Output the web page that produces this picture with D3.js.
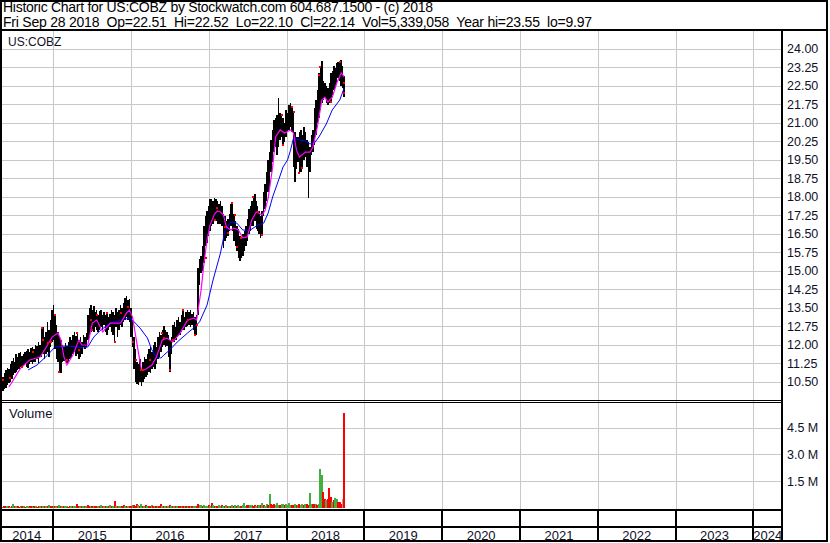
<!DOCTYPE html>
<html><head><meta charset="utf-8">
<script src="https://cdn.jsdelivr.net/npm/d3@7"></script>
<style>
html,body{margin:0;padding:0;background:#fff;}
svg{display:block;font-family:"Liberation Sans",Arial,sans-serif;}
</style>
</head><body>
<svg id="chart" width="830" height="543"></svg>
<script>
// ---------------- DATA ----------------
const headerLine1 = "Historic Chart for US:COBZ by Stockwatch.com 604.687.1500 - (c) 2018";
const headerLine2 = "Fri Sep 28 2018  Op=22.51  Hi=22.52  Lo=22.10  Cl=22.14  Vol=5,339,058  Year hi=23.55  lo=9.97";
const symbolLabel = "US:COBZ";
const volumeLabel = "Volume";
const firstWeek = "2014-05-02";   // weekly bars, one per week from this date

const highs = [
10.65,10.70,10.85,10.95,11.05,11.00,11.20,11.35,11.45,11.30,
11.60,11.50,11.65,11.70,11.55,11.60,11.70,11.75,11.80,11.70,
11.85,11.90,11.80,12.00,11.95,12.10,12.00,12.70,12.70,12.30,
12.50,12.90,12.60,13.00,13.40,13.60,13.20,12.80,12.50,12.30,
12.20,12.00,11.90,12.05,11.95,12.10,12.30,12.20,12.40,12.50,
12.35,12.50,12.20,12.30,12.10,12.40,12.30,12.45,13.20,13.50,
13.60,13.40,13.55,13.30,13.40,13.20,13.35,13.40,13.20,13.30,
13.20,13.30,13.10,13.25,13.40,13.30,13.20,13.50,13.30,13.40,
13.60,13.50,13.70,13.90,13.95,13.80,13.85,13.50,13.00,12.30,
11.80,11.30,11.20,11.40,11.00,11.30,11.50,11.40,11.60,11.80,
11.90,11.70,12.00,12.10,11.90,12.30,12.50,12.40,12.60,12.75,
12.60,12.50,12.40,12.20,12.30,12.80,12.90,12.70,13.00,13.10,
12.90,13.20,13.40,13.10,13.30,13.40,13.30,13.40,13.25,13.30,
13.10,13.20,15.10,15.45,15.60,16.00,16.80,17.20,17.40,17.60,
17.90,17.90,17.80,17.95,17.90,17.80,17.70,17.80,17.60,17.30,
17.20,17.00,17.10,17.30,17.70,17.75,17.30,17.00,16.80,16.70,
16.40,16.35,16.50,16.60,16.80,17.10,17.50,17.60,17.80,18.00,
18.10,17.80,17.60,17.40,17.20,17.40,18.20,18.50,19.00,19.50,
19.80,20.30,20.70,21.10,21.20,21.30,22.00,21.40,21.30,21.20,
21.00,21.50,21.40,21.70,21.80,21.65,21.45,20.60,20.40,20.40,
20.60,20.70,20.50,20.80,20.60,20.30,20.20,20.00,20.50,20.70,
21.60,21.90,22.30,23.00,23.30,23.50,22.70,22.60,22.50,22.40,
22.60,23.00,23.10,23.30,23.20,23.40,23.45,23.45,23.55,23.30,22.90
];
const lows = [
9.97,10.10,10.20,10.25,10.35,10.45,10.50,10.60,10.75,10.85,
10.90,10.95,11.00,11.10,11.05,11.15,11.20,11.10,11.05,11.20,
11.30,11.20,11.30,11.30,11.40,11.25,11.50,11.50,11.60,11.40,
11.60,11.70,11.50,11.90,12.10,12.20,11.80,11.40,11.30,10.85,
10.85,11.30,11.35,11.30,11.25,11.30,11.40,11.50,11.60,11.70,
11.55,11.60,11.40,11.50,11.60,11.90,11.80,11.90,12.20,12.40,
12.50,12.60,12.50,12.70,12.60,12.50,12.60,12.70,12.60,12.80,
12.50,12.40,12.60,12.70,12.50,12.40,12.10,12.70,12.30,12.60,
12.80,12.70,12.90,13.00,13.10,13.00,12.90,12.30,11.90,11.00,
10.50,10.40,10.35,10.50,10.32,10.50,10.60,10.70,10.75,10.90,
10.85,11.00,11.10,11.00,11.20,11.40,11.50,11.70,11.90,12.00,
11.90,11.95,11.50,10.90,11.60,12.10,12.10,12.20,12.30,12.35,
12.40,12.50,12.60,12.60,12.70,12.75,12.80,12.70,12.80,12.60,
12.35,12.40,13.20,14.40,14.90,15.00,15.30,16.00,16.10,16.40,
16.60,16.80,16.90,17.00,17.00,16.90,16.90,16.90,16.80,15.90,
16.20,16.30,16.40,16.60,16.80,16.60,16.20,16.00,15.80,15.50,
15.40,15.50,15.60,15.80,16.00,16.20,16.50,16.60,16.80,16.80,
17.00,16.70,16.60,16.50,16.30,16.40,17.20,17.50,17.80,18.20,
18.40,19.00,19.40,19.80,20.00,19.70,20.00,20.30,20.40,20.05,
20.20,20.40,20.60,20.70,20.80,20.60,19.20,18.60,19.10,19.40,
18.90,19.00,19.10,19.50,19.60,19.20,17.95,19.00,19.70,19.80,
20.10,20.50,21.00,21.20,21.50,21.80,21.90,22.00,21.80,21.70,
21.80,21.80,22.10,22.30,22.40,22.60,22.80,22.70,22.50,22.40,22.05
];

// red marks: week index and price
const redWeek  = [1,6,14,21,27,28,31,33,36,39,44,51,52,60,61,64,71,76,80,85,88,90,94,95,100,108,109,113,115,122,125,130,131,137,143,145,150,152,155,157,158,161,169,172,175,188,189,195,196,200,202,213,214,221,227,230,230];
const redPrice = [10.56,10.64,11.09,11.70,12.67,12.18,12.06,12.10,13.20,10.90,11.37,12.47,11.78,12.99,12.59,13.20,13.28,12.10,13.28,13.52,12.10,11.37,10.97,10.97,11.37,12.47,12.26,10.97,12.18,13.40,12.99,12.39,12.79,15.51,17.05,17.53,16.76,16.52,17.74,17.25,15.95,16.32,17.98,17.37,16.45,21.30,20.08,21.63,21.42,18.95,19.15,22.92,23.25,21.83,23.45,22.60,22.20];

// short moving average (magenta)
const maFastWeek = [5,6,13,19,26,31,34,38,40,42,44,48,52,54,58,61,64,68,73,80,84,86,88,92,94,96,101,104,108,111,115,120,125,129,131,134,136,138,140,143,145,147,149,151,154,156,159,162,165,168,171,175,177,179,182,184,187,190,194,196,198,200,204,207,209,212,215,217,219,222,225,228,230];
const maFastVal  = [10.28,10.36,11.05,11.37,11.49,11.98,12.30,12.47,12.18,11.50,11.17,11.57,12.18,11.98,11.98,12.87,12.99,12.51,12.87,12.87,13.28,13.40,13.11,11.66,10.97,10.97,11.17,11.49,12.18,12.26,12.10,12.47,12.99,13.07,12.99,14.21,15.34,16.24,16.84,17.29,17.41,17.37,17.25,16.76,16.64,16.72,16.64,16.32,16.36,17.05,17.37,17.25,17.45,17.94,19.19,20.41,20.70,20.57,20.70,20.57,19.88,19.60,19.80,19.80,20.00,20.82,21.91,22.03,21.83,22.03,22.60,23.01,22.85];

// long moving average (blue)
const maSlowWeek = [18,24,31,36,44,51,55,58,62,66,73,80,86,88,93,98,101,104,107,109,113,118,125,129,133,138,142,147,150,154,158,162,167,172,176,179,182,186,189,192,194,196,200,204,207,210,213,218,222,227,230];
const maSlowVal  = [10.97,11.17,11.57,11.90,11.94,11.90,11.86,11.90,12.30,12.55,12.87,12.99,13.07,12.99,12.67,12.26,11.78,11.49,11.45,11.57,11.78,12.10,12.47,12.67,12.92,13.60,14.61,15.71,16.60,16.97,16.92,16.64,16.64,16.84,16.92,17.33,17.98,18.67,19.20,19.48,19.88,20.37,20.29,20.25,20.13,20.17,20.41,20.94,21.51,21.91,22.40];

// volume in thousands of shares; direction: g = up, r = down, x = unchanged
const volumes = [
90,70,110,85,120,95,80,100,200,110,
95,120,80,105,90,115,75,100,125,90,
110,85,130,95,75,105,120,90,140,100,
115,95,190,120,105,140,90,125,110,150,
100,85,115,95,130,80,105,120,90,110,
130,220,95,115,140,100,85,120,160,130,
110,95,140,120,85,105,125,190,100,115,
90,130,110,145,100,120,400,95,115,135,
105,120,180,90,125,140,110,130,150,160,
140,250,170,120,200,130,110,145,100,125,
115,190,105,130,95,120,140,200,110,125,
100,130,115,145,95,120,105,135,90,110,
125,100,115,140,95,120,105,130,110,125,
140,120,200,180,150,130,170,120,140,160,
130,260,150,120,140,110,160,130,145,120,
135,150,115,140,125,160,130,145,120,150,
140,125,155,260,130,145,180,150,170,140,
160,135,150,175,145,270,160,140,200,190,
780,230,170,250,160,300,190,175,210,220,
160,200,180,260,150,190,170,210,160,180,
200,170,240,190,220,210,180,840,230,200,
240,210,190,220,2180,1850,920,520,450,500,
1120,620,350,450,580,500,350,320,250,500,5339
];
const volDir =
"rgrrgrgrgr"+"grrgrgrggr"+"rgrgrrgrgr"+"grgrrgrgrg"+"rgrggrrgrg"+
"grrgrgrgrr"+"grgrrgrgrg"+"rgrgrgrgrg"+"grrgrgrrgr"+"rrgrgrgrgr"+
"rgrgrgrrgr"+"grgrgrgrgr"+"rgrgrgrgrg"+"grrggrgggr"+"grgrgrggrg"+
"rgrgrgrgrg"+"grgggrrggr"+"rgrgrgrggr"+"grrrgggrgg"+"rggggrrgrg"+
"rggrgrrggr"+"rgrgggrrgr"+"rrgrggrrrxr";

const priceTicks = [10.50,11.25,12.00,12.75,13.50,14.25,15.00,15.75,16.50,17.25,18.00,18.75,19.50,20.25,21.00,21.75,22.50,23.25,24.00];
const volTicks = [1.5, 3.0, 4.5];     // millions
const years = [2014,2015,2016,2017,2018,2019,2020,2021,2022,2023,2024];

// ---------------- LAYOUT ----------------
const plotL = 2, plotR = 781;
const priceTop = 32, priceBot = 400;
const volTop = 403, volBot = 508;
const gridColor = "#c8c8c8";
const labelColor = "#10102a";

const svg = d3.select("#chart");
const parse = d3.utcParse("%Y-%m-%d");
const start = parse(firstWeek);
const dates = highs.map((_, i) => d3.utcDay.offset(start, 7 * i));

const x = d3.scaleUtc()
  .domain([Date.UTC(2015,0,1), Date.UTC(2024,0,1)])
  .range([53.3, 753.3]);
const y = d3.scaleLinear().domain([10.5, 24]).range([381.5, 48.5]);
const yv = d3.scaleLinear().domain([0, 5.339]).range([508, 412.7]);

svg.append("rect").attr("width",830).attr("height",543).attr("fill","#fff");

const defs = svg.append("defs");
defs.append("clipPath").attr("id","cp").append("rect")
  .attr("x",plotL).attr("y",priceTop).attr("width",plotR-plotL).attr("height",priceBot-priceTop);
defs.append("clipPath").attr("id","cv").append("rect")
  .attr("x",plotL).attr("y",volTop).attr("width",plotR-plotL).attr("height",volBot-volTop+1);

// grid
const grid = svg.append("g").attr("stroke", gridColor).attr("stroke-width",1).attr("shape-rendering","crispEdges");
grid.selectAll("line.hp").data(priceTicks).join("line")
  .attr("x1",plotL).attr("x2",plotR).attr("y1",d=>Math.round(y(d))+0.5).attr("y2",d=>Math.round(y(d))+0.5);
grid.selectAll("line.hv").data(volTicks).join("line")
  .attr("x1",plotL).attr("x2",plotR).attr("y1",d=>Math.round(yv(d))+0.5).attr("y2",d=>Math.round(yv(d))+0.5);
const yearBounds = years.slice(1).map(yr => Date.UTC(yr,0,1));
grid.selectAll("line.vv").data(yearBounds).join("line")
  .attr("x1",d=>Math.round(x(d))+0.5).attr("x2",d=>Math.round(x(d))+0.5)
  .attr("y1",31).attr("y2",volBot+1);

// price bars
const pg = svg.append("g").attr("clip-path","url(#cp)");
pg.append("g").attr("shape-rendering","crispEdges").selectAll("rect").data(dates).join("rect")
  .attr("x",(d)=>x(d)-0.75).attr("width",1.5)
  .attr("y",(d,i)=>y(highs[i]))
  .attr("height",(d,i)=>Math.max(1, y(lows[i]) - y(highs[i])))
  .attr("fill","#000");

// moving averages
const lineGen = d3.line().x(d=>x(dates[d[0]])).y(d=>y(d[1]));
pg.append("path").datum(maSlowWeek.map((w,i)=>[w,maSlowVal[i]]))
  .attr("d",lineGen).attr("fill","none").attr("stroke","#0000ff").attr("stroke-width",1);
pg.append("path").datum(maFastWeek.map((w,i)=>[w,maFastVal[i]]))
  .attr("d",lineGen).attr("fill","none").attr("stroke","#ff00ff").attr("stroke-width",1.2);

// red marks
pg.append("g").attr("shape-rendering","crispEdges").selectAll("rect").data(redWeek).join("rect")
  .attr("x",(w)=>x(dates[w])-1).attr("y",(w,i)=>y(redPrice[i])-1)
  .attr("width",2).attr("height",2).attr("fill","#ff0000");

// volume bars
const vcol = {g:"#40b040", r:"#ff0000", x:"#a0a0a0"};
svg.append("g").attr("clip-path","url(#cv)").attr("shape-rendering","crispEdges")
  .selectAll("rect").data(dates).join("rect")
  .attr("x",d=>x(d)-1).attr("width",2)
  .attr("y",(d,i)=>yv(volumes[i]/1000))
  .attr("height",(d,i)=>Math.max(1, volBot - yv(volumes[i]/1000)))
  .attr("fill",(d,i)=>vcol[volDir[i]]);

// frames
const fr = svg.append("g").attr("stroke","#000").attr("fill","none").attr("shape-rendering","crispEdges");
fr.append("rect").attr("x",1).attr("y",1).attr("width",826).attr("height",540).attr("stroke-width",2);
fr.append("line").attr("x1",0).attr("x2",828).attr("y1",30).attr("y2",30).attr("stroke-width",2);
fr.append("line").attr("x1",0).attr("x2",782).attr("y1",400.5).attr("y2",400.5).attr("stroke-width",1);
fr.append("line").attr("x1",0).attr("x2",782).attr("y1",402.5).attr("y2",402.5).attr("stroke-width",1);
fr.append("line").attr("x1",0).attr("x2",782).attr("y1",509.5).attr("y2",509.5).attr("stroke-width",2);
fr.append("line").attr("x1",0).attr("x2",782).attr("y1",527).attr("y2",527).attr("stroke-width",2);
fr.append("line").attr("x1",782).attr("x2",782).attr("y1",30).attr("y2",542).attr("stroke-width",2);
fr.selectAll("line.yb").data(yearBounds).join("line")
  .attr("x1",d=>Math.round(x(d))).attr("x2",d=>Math.round(x(d)))
  .attr("y1",509).attr("y2",541).attr("stroke-width",2);

// header text (keep double spaces)
const keepSpaces = s => s.replace(/  /g, " \u00a0");
const hdr = svg.append("g").attr("font-size","14px").attr("fill","#000");
hdr.append("text").attr("x",3).attr("y",12).attr("textLength",430).attr("lengthAdjust","spacing")
  .text(keepSpaces(headerLine1));
hdr.append("text").attr("x",3).attr("y",26.5).attr("textLength",589).attr("lengthAdjust","spacing")
  .text(keepSpaces(headerLine2));

// panel labels
svg.append("text").attr("x",8).attr("y",46).attr("font-size","12px").attr("fill",labelColor).text(symbolLabel);
svg.append("text").attr("x",9).attr("y",418).attr("font-size","13px").attr("fill",labelColor).text(volumeLabel);

// right axes
svg.append("g").selectAll("text").data(priceTicks).join("text")
  .attr("x",787).attr("y",d=>y(d)+4.5).attr("font-size","12.5px").attr("fill",labelColor)
  .text(d=>d3.format(".2f")(d));
svg.append("g").selectAll("text").data(volTicks).join("text")
  .attr("x",787).attr("y",d=>yv(d)+4.5).attr("font-size","12.5px").attr("fill",labelColor)
  .text(d=>d3.format(".1f")(d)+" M");

// year labels
svg.append("g").selectAll("text").data(years).join("text")
  .attr("x",yr=>{
    const a = Math.max(0, x(Date.UTC(yr,0,1)));
    const b = Math.min(782, x(Date.UTC(yr+1,0,1)));
    return (a+b)/2;
  })
  .attr("y",539.5).attr("text-anchor","middle").attr("font-size","13px").attr("fill",labelColor)
  .text(yr=>yr);
</script>
</body></html>
